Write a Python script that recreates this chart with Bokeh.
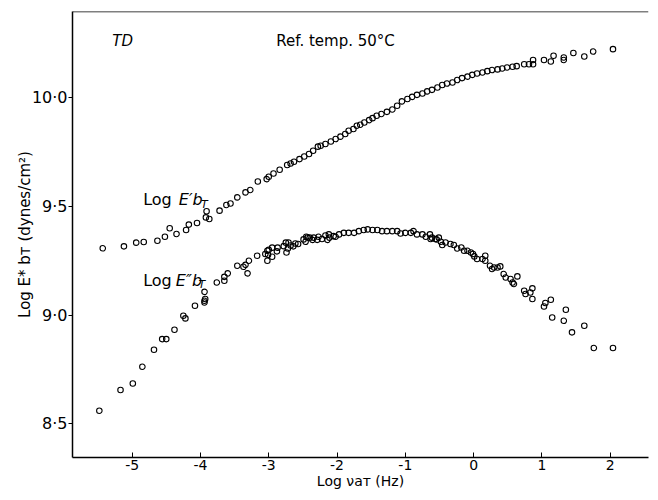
from bokeh.plotting import figure
from bokeh.models import Range1d, Label, Span, FixedTicker
from bokeh.embed import file_html
from bokeh.resources import INLINE

# ---- data ----
e1_x = [-5.43, -5.12, -4.94, -4.83, -4.63, -4.52, -4.45, -4.35, -4.21, -4.17,
        -4.05, -3.91, -3.92, -3.87, -3.72, -3.62, -3.56, -3.46, -3.34, -3.27,
        -3.16, -3.03, -3.00, -2.93, -2.84, -2.73, -2.68, -2.63, -2.55, -2.48,
        -2.41, -2.35, -2.28, -2.24, -2.17, -2.09, -2.02, -1.95, -1.88, -1.83,
        -1.76, -1.71, -1.66, -1.60, -1.53, -1.48, -1.42, -1.35, -1.27, -1.19,
        -1.12, -1.05, -0.97, -0.90, -0.83, -0.75, -0.68, -0.61, -0.53, -0.46,
        -0.39, -0.31, -0.24, -0.17, -0.09, -0.02, 0.05, 0.13, 0.20, 0.27,
        0.35, 0.42, 0.49, 0.57, 0.63, 0.74, 0.81, 0.87, 0.87, 1.03,
        1.13, 1.17, 1.32, 1.32, 1.46, 1.62, 1.75, 2.04]
e1_y = [9.307, 9.316, 9.333, 9.336, 9.342, 9.360, 9.399, 9.373, 9.391, 9.416,
        9.423, 9.477, 9.449, 9.442, 9.480, 9.506, 9.513, 9.541, 9.564, 9.575,
        9.614, 9.625, 9.636, 9.651, 9.668, 9.690, 9.697, 9.705, 9.717, 9.729,
        9.740, 9.755, 9.774, 9.778, 9.786, 9.798, 9.809, 9.820, 9.832, 9.847,
        9.855, 9.870, 9.875, 9.885, 9.896, 9.905, 9.916, 9.924, 9.934, 9.945,
        9.962, 9.982, 9.993, 10.003, 10.012, 10.018, 10.028, 10.035, 10.046, 10.057,
        10.064, 10.069, 10.080, 10.089, 10.096, 10.104, 10.110, 10.115, 10.121, 10.126,
        10.129, 10.133, 10.138, 10.141, 10.144, 10.153, 10.153, 10.172, 10.153, 10.172,
        10.165, 10.192, 10.184, 10.172, 10.204, 10.188, 10.211, 10.222]

e2_x = [-5.48, -5.17, -4.99, -4.85, -4.68, -4.56, -4.50, -4.38, -4.25, -4.22,
        -4.08, -3.94, -3.94, -3.93, -3.94, -3.76, -3.65, -3.65, -3.60, -3.46,
        -3.37, -3.34, -3.31, -3.29, -3.17, -3.05, -3.02, -3.02, -3.01, -3.00,
        -2.95, -2.95, -2.88, -2.87, -2.78, -2.75, -2.74, -2.72, -2.71, -2.68,
        -2.64, -2.61, -2.57, -2.49, -2.46, -2.45, -2.43, -2.40, -2.36, -2.34,
        -2.29, -2.27, -2.22, -2.17, -2.14, -2.12, -2.11, -2.05, -2.02, -1.97,
        -1.90, -1.83, -1.75, -1.68, -1.61, -1.55, -1.48, -1.41, -1.34, -1.27,
        -1.19, -1.12, -1.07, -1.00, -0.92, -0.88, -0.83, -0.75, -0.70, -0.64,
        -0.63, -0.61, -0.56, -0.54, -0.51, -0.48, -0.46, -0.41, -0.34, -0.29,
        -0.24, -0.18, -0.14, -0.09, -0.04, -0.01, 0.01, 0.05, 0.13, 0.17,
        0.17, 0.24, 0.27, 0.30, 0.35, 0.39, 0.44, 0.47, 0.54, 0.57,
        0.59, 0.64, 0.74, 0.76, 0.83, 0.86, 0.86, 1.03, 1.05, 1.13,
        1.15, 1.32, 1.35, 1.44, 1.62, 1.76, 2.04]
e2_y = [8.561, 8.656, 8.686, 8.763, 8.841, 8.890, 8.890, 8.933, 8.997, 8.985,
        9.043, 9.058, 9.066, 9.074, 9.107, 9.150, 9.158, 9.176, 9.192, 9.227,
        9.222, 9.231, 9.192, 9.250, 9.273, 9.281, 9.250, 9.296, 9.277, 9.300,
        9.268, 9.310, 9.293, 9.310, 9.317, 9.333, 9.288, 9.306, 9.334, 9.320,
        9.316, 9.329, 9.327, 9.348, 9.337, 9.360, 9.357, 9.356, 9.346, 9.356,
        9.346, 9.360, 9.350, 9.366, 9.346, 9.371, 9.356, 9.363, 9.360, 9.371,
        9.378, 9.378, 9.378, 9.386, 9.391, 9.394, 9.391, 9.391, 9.386, 9.386,
        9.386, 9.386, 9.375, 9.378, 9.378, 9.386, 9.371, 9.371, 9.360, 9.371,
        9.350, 9.356, 9.350, 9.348, 9.356, 9.337, 9.322, 9.334, 9.327, 9.322,
        9.306, 9.311, 9.296, 9.296, 9.288, 9.281, 9.270, 9.258, 9.258, 9.273,
        9.250, 9.227, 9.212, 9.219, 9.219, 9.224, 9.189, 9.173, 9.166, 9.150,
        9.143, 9.178, 9.112, 9.097, 9.104, 9.123, 9.074, 9.040, 9.056, 9.071,
        8.989, 8.974, 9.025, 8.921, 8.951, 8.849, 8.849]

x_ticks = [-5, -4, -3, -2, -1, 0, 1, 2]
x_tick_labels = ["-5", "-4", "-3", "-2", "-1", "0", "1", "2"]
y_ticks = [8.5, 9.0, 9.5, 10.0]
y_tick_labels = ["8·5", "9·0", "9·5", "10·0"]

FONT = "DejaVu Sans"

p = figure(width=650, height=492,
           x_range=Range1d(-5.873, 2.56), y_range=Range1d(8.346, 10.395),
           output_backend="svg", toolbar_location=None,
           min_border_left=72, min_border_right=2, min_border_top=11, min_border_bottom=35)
p.grid.visible = False
p.outline_line_color = None
p.background_fill_color = "white"
p.border_fill_color = "white"

xa = p.xaxis[0]
xa.ticker = FixedTicker(ticks=x_ticks)
xa.major_label_overrides = dict(zip(x_ticks, x_tick_labels))
xa.major_tick_in = 5
xa.major_tick_out = 0
xa.minor_tick_line_color = None
xa.axis_line_width = 1.5
xa.axis_line_color = "black"
xa.major_tick_line_color = "black"
xa.major_label_text_font = FONT
xa.major_label_text_font_size = "14px"
xa.major_label_text_color = "black"
xa.major_label_standoff = 2
xa.axis_label = "Log νaᴛ (Hz)"
xa.axis_label_text_font = FONT
xa.axis_label_text_font_style = "normal"
xa.axis_label_text_font_size = "14px"
xa.axis_label_text_color = "black"
xa.axis_label_standoff = 0

ya = p.yaxis[0]
ya.ticker = FixedTicker(ticks=y_ticks)
ya.major_label_overrides = dict(zip(y_ticks, y_tick_labels))
ya.major_tick_in = 0
ya.major_tick_out = 4
ya.minor_tick_line_color = None
ya.axis_line_width = 1.5
ya.axis_line_color = "black"
ya.major_tick_line_color = "black"
ya.major_label_text_font = FONT
ya.major_label_text_font_size = "16px"
ya.major_label_text_color = "black"
ya.major_label_standoff = 1
ya.axis_label = "Log E* bᴛ (dynes/cm²)"
ya.axis_label_text_font = FONT
ya.axis_label_text_font_style = "normal"
ya.axis_label_text_font_size = "15px"
ya.axis_label_text_color = "black"
ya.axis_label_standoff = -5

p.add_layout(Span(location=10.395, dimension="width", line_color="black", line_width=1.5))

p.scatter(e1_x, e1_y, marker="circle", size=5.5, line_color="black",
          fill_alpha=0, line_width=1.1)
p.scatter(e2_x, e2_y, marker="circle", size=5.5, line_color="black",
          fill_alpha=0, line_width=1.1)

def lab(x, y, text, size="15px", style="normal", baseline="alphabetic"):
    p.add_layout(Label(x=x, y=y, text=text, text_font=FONT, text_font_size=size,
                       text_font_style=style, text_color="black",
                       text_baseline=baseline))

lab(-5.29, 10.26, "TD", style="italic", baseline="middle")
lab(-2.89, 10.26, "Ref. temp. 50°C", baseline="middle")

lab(-4.838, 9.533, "Log", size="16px")
lab(-4.317, 9.533, "E′b", size="16px", style="italic")
lab(-3.99, 9.510, "T", size="11px", style="italic")

lab(-4.838, 9.161, "Log", size="16px")
lab(-4.36, 9.161, "E″b", size="16px", style="italic")
lab(-4.03, 9.143, "T", size="11px", style="italic")

open("out.html", "w").write(file_html(p, INLINE))
